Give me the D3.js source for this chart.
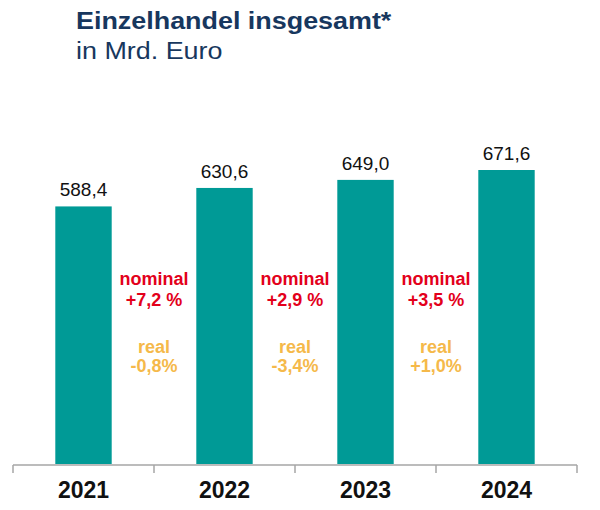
<!DOCTYPE html>
<html><head><meta charset="utf-8">
<script src="https://cdn.jsdelivr.net/npm/d3@7"></script>
<style>body{margin:0;background:#fff}</style>
</head><body>
<svg id="c" width="600" height="510"></svg>
<script>
const years = ["2021","2022","2023","2024"];
const values = [588.4, 630.6, 649.0, 671.6];
const valueLabels = ["588,4","630,6","649,0","671,6"];
const nominalLabels = ["+7,2 %","+2,9 %","+3,5 %"];
const realLabels = ["-0,8%","-3,4%","+1,0%"];

const svg = d3.select("#c");
const font = "Arial, 'Liberation Sans', sans-serif";
const baseY = 464, left = 13, right = 577;

const x = d3.scaleBand().domain(years).range([left, right]).paddingInner(0.6).paddingOuter(0.3);
const y = d3.scaleLinear().domain([0, 671.6]).range([baseY, 170]);

svg.append("text").attr("transform", "translate(76,29) scale(1.17,1)").attr("font-family", font).attr("font-weight", "bold")
  .attr("font-size", 23).attr("fill", "#17375e").text("Einzelhandel insgesamt*");
svg.append("text").attr("transform", "translate(76,59) scale(1.17,1)").attr("font-family", font)
  .attr("font-size", 23).attr("fill", "#17375e").text("in Mrd. Euro");

svg.selectAll("rect.bar").data(values).join("rect").attr("class","bar")
  .attr("x", (d,i) => x(years[i])).attr("width", x.bandwidth())
  .attr("y", d => y(d)).attr("height", d => baseY - y(d)).attr("fill", "#009a96");

svg.selectAll("text.val").data(values).join("text").attr("class","val")
  .attr("x", (d,i) => x(years[i]) + x.bandwidth()/2).attr("y", d => y(d) - 10)
  .attr("text-anchor","middle").attr("font-family", font).attr("font-size", 19).attr("fill","#111")
  .text((d,i) => valueLabels[i]);

// axis
const step = (right - left) / years.length;
const g = svg.append("g");
g.append("line").attr("x1", left).attr("x2", right).attr("y1", baseY+1).attr("y2", baseY+1)
  .attr("stroke", "#a6a6a6").attr("stroke-width", 1.5);
d3.range(years.length + 1).forEach(i => {
  g.append("line").attr("x1", left + i*step).attr("x2", left + i*step)
    .attr("y1", baseY+1).attr("y2", baseY+9).attr("stroke", "#a6a6a6").attr("stroke-width", 1.5);
});
svg.selectAll("text.year").data(years).join("text").attr("class","year")
  .attr("x", d => x(d) + x.bandwidth()/2).attr("y", 498)
  .attr("text-anchor","middle").attr("font-family", font).attr("font-weight","bold")
  .attr("font-size", 23).attr("fill","#111").text(d => d);

// annotations between bars
nominalLabels.forEach((t, i) => {
  const cx = (x(years[i]) + x.bandwidth() + x(years[i+1])) / 2;
  const a = svg.append("g").attr("font-family", font).attr("font-weight","bold")
    .attr("font-size", 18).attr("text-anchor","middle");
  a.append("text").attr("x", cx).attr("y", 285).attr("fill", "#e3001b").text("nominal");
  a.append("text").attr("x", cx).attr("y", 306).attr("fill", "#e3001b").text(t);
  a.append("text").attr("x", cx).attr("y", 353).attr("fill", "#f5b94a").text("real");
  a.append("text").attr("x", cx).attr("y", 372).attr("fill", "#f5b94a").text(realLabels[i]);
});
</script>
</body></html>
